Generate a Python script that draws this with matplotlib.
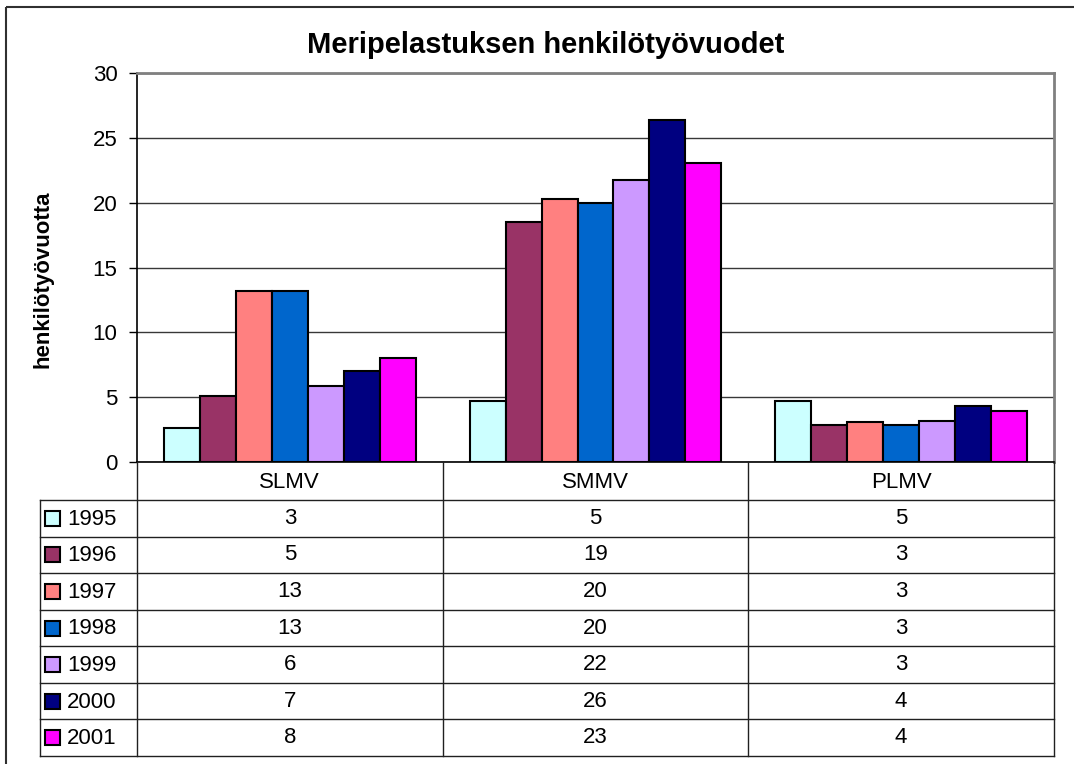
import matplotlib
matplotlib.use('Agg')
import matplotlib.pyplot as plt
import numpy as np
from matplotlib.patches import Rectangle

plt.rcParams['font.family'] = ['Liberation Sans', 'DejaVu Sans']

# ---------------- data ----------------
categories = ['SLMV', 'SMMV', 'PLMV']
years = ['1995', '1996', '1997', '1998', '1999', '2000', '2001']
slmv = [2.6, 5.1, 13.2, 13.2, 5.85, 7.0, 8.05]
smmv = [4.7, 18.5, 20.25, 19.95, 21.75, 26.35, 23.05]
plmv = [4.7, 2.85, 3.1, 2.85, 3.15, 4.3, 3.95]
colors = ['#CCFFFF', '#993366', '#FF8080', '#0066CC', '#CC99FF', '#000080', '#FF00FF']
yticks = [0, 5, 10, 15, 20, 25, 30]
title = 'Meripelastuksen henkilötyövuodet'
ylabel = 'henkilötyövuotta'

# ---------------- layout (pixels) ----------------
W, H = 1074, 764
PL, PR, PT, PB = 137, 1054, 73, 462
TL = 40          # table left edge
ROW0 = 500       # first data row top
TB = 756         # table bottom

fig = plt.figure(figsize=(W / 100, H / 100), dpi=100)
fig.patch.set_facecolor('white')

ax = fig.add_axes([PL / W, 1 - PB / H, (PR - PL) / W, (PB - PT) / H])
values = np.array([slmv, smmv, plmv])
n = len(years)
w = 1.0 / (n + 1.5)
x = np.arange(len(categories))
for j in range(n):
    ax.bar(x + (j - (n - 1) / 2) * w, values[:, j], width=w, color=colors[j],
           edgecolor='black', linewidth=1.5, zorder=3)
ax.set_xlim(-0.5, len(categories) - 0.5)
ax.set_ylim(yticks[0], yticks[-1])
ax.set_yticks(yticks)
ax.set_xticks([])
ax.yaxis.grid(True, color='#383838', linewidth=1)
ax.set_axisbelow(True)
ax.spines['left'].set_color('black')
ax.spines['left'].set_linewidth(1.2)
ax.spines['bottom'].set_color('black')
ax.spines['bottom'].set_linewidth(1.2)
for s in ('top', 'right'):
    ax.spines[s].set_color('#808080')
    ax.spines[s].set_linewidth(2)
ax.tick_params(axis='y', direction='out', length=6, width=1, pad=8, labelsize=16)

# ---------------- overlay for table ----------------
ov = fig.add_axes([0, 0, 1, 1])
ov.set_xlim(0, W)
ov.set_ylim(H, 0)
ov.axis('off')

colw = (PR - PL) / len(categories)
col_edges = [PL + i * colw for i in range(len(categories) + 1)]
rh = (TB - ROW0) / n
lc = '#202020'
fs = 16

for k in range(n + 1):
    y = ROW0 + k * rh
    ov.plot([TL, PR], [y, y], color=lc, lw=1)
ov.plot([TL, TL], [ROW0, TB], color=lc, lw=1)
for xe in col_edges:
    ov.plot([xe, xe], [PB, TB], color=lc, lw=1)

for i, c in enumerate(categories):
    ov.text(PL + (i + 0.5) * colw, (PB + ROW0) / 2 + 1, c, ha='center', va='center', fontsize=fs)

for j, yr in enumerate(years):
    yc = ROW0 + (j + 0.5) * rh
    ov.add_patch(Rectangle((45, yc - 7.5), 15, 15, facecolor=colors[j], edgecolor='black', lw=1.5))
    ov.text(67, yc + 1, yr, ha='left', va='center', fontsize=fs)
    for i in range(len(categories)):
        v = int(np.floor(values[i, j] + 0.5))
        ov.text(PL + (i + 0.5) * colw, yc, str(v), ha='center', va='center', fontsize=fs)

# outer border
ov.add_patch(Rectangle((5.5, 6.5), W, H, fill=False, edgecolor='#303030', lw=1.5))

fig.text(546 / W, 1 - 45 / H, title, ha='center', va='center', fontsize=21, fontweight='bold')
fig.text(43 / W, 1 - 279 / H, ylabel, rotation=90, ha='center', va='center', fontsize=16, fontweight='bold')

fig.savefig('out.png', dpi=100)
